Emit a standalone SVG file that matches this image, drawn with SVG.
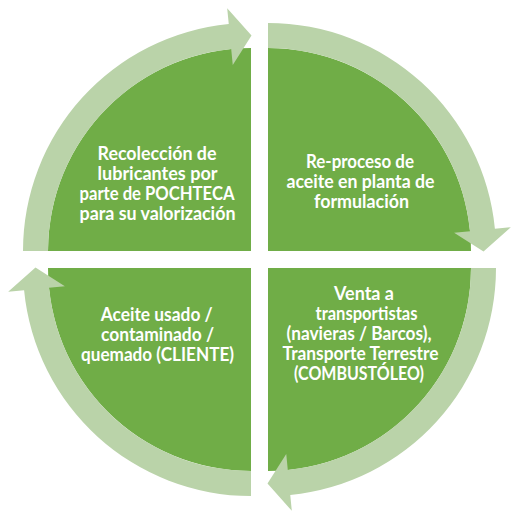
<svg xmlns="http://www.w3.org/2000/svg" width="522" height="523" viewBox="0 0 522 523">
<defs>
<style>
.q{fill:#70AD47;}
.a{fill:#BAD3A9;}
.t{font-family:Lato,"Open Sans","Liberation Sans",sans-serif;font-weight:700;font-size:18px;fill:#FFFFFF;text-anchor:middle;}
</style>
<path id="quad" d="M0,0 L-203,0 A203,203 0 0 1 0,-203 Z"/>
<path id="arr" d="M-228,0 A228,228 0 0 1 -22.25,-226.91 L-23.81,-242.84 L0.5,-215.5 L-18.25,-186.11 L-19.81,-202.03 A203,203 0 0 0 -203,0 Z"/>
</defs>
<rect width="522" height="523" fill="#FFFFFF"/>
<g id="node-recoleccion">
<use href="#quad" class="q" transform="translate(251,251)"/>
<text class="t"><tspan x="157" y="159.5" textLength="119" lengthAdjust="spacingAndGlyphs">Recolección de</tspan><tspan x="157.5" y="179.5" textLength="120" lengthAdjust="spacingAndGlyphs">lubricantes por</tspan><tspan x="157" y="199.5" textLength="155" lengthAdjust="spacingAndGlyphs">parte de POCHTECA</tspan><tspan x="157.5" y="219.5" textLength="156" lengthAdjust="spacingAndGlyphs">para su valorización</tspan></text>
</g>
<g id="node-reproceso">
<use href="#quad" class="q" transform="translate(268,251) rotate(90)"/>
<text class="t"><tspan x="360" y="168" textLength="108" lengthAdjust="spacingAndGlyphs">Re-proceso de</tspan><tspan x="360.5" y="188" textLength="148" lengthAdjust="spacingAndGlyphs">aceite en planta de</tspan><tspan x="361.5" y="208" textLength="95" lengthAdjust="spacingAndGlyphs">formulación</tspan></text>
</g>
<g id="node-venta">
<use href="#quad" class="q" transform="translate(268,268) rotate(180)"/>
<text class="t"><tspan x="364" y="300" textLength="60" lengthAdjust="spacingAndGlyphs">Venta a</tspan><tspan x="366.5" y="320" textLength="102" lengthAdjust="spacingAndGlyphs">transportistas</tspan><tspan x="359" y="340" textLength="145" lengthAdjust="spacingAndGlyphs">(navieras / Barcos),</tspan><tspan x="360.5" y="360" textLength="156" lengthAdjust="spacingAndGlyphs">Transporte Terrestre</tspan><tspan x="359" y="380" textLength="130" lengthAdjust="spacingAndGlyphs">(COMBUSTÓLEO)</tspan></text>
</g>
<g id="node-aceite">
<use href="#quad" class="q" transform="translate(251,268) rotate(270)"/>
<text class="t"><tspan x="156.7" y="321" textLength="112" lengthAdjust="spacingAndGlyphs">Aceite usado /</tspan><tspan x="157.5" y="341" textLength="113" lengthAdjust="spacingAndGlyphs">contaminado /</tspan><tspan x="157.5" y="361" textLength="153" lengthAdjust="spacingAndGlyphs">quemado (CLIENTE)</tspan></text>
</g>
<g id="connectors">
<use href="#arr" class="a" transform="translate(251,251)"/>
<use href="#arr" class="a" transform="translate(268,251) rotate(90)"/>
<use href="#arr" class="a" transform="translate(268,268) rotate(180)"/>
<use href="#arr" class="a" transform="translate(251,268) rotate(270)"/>
</g>
</svg>
